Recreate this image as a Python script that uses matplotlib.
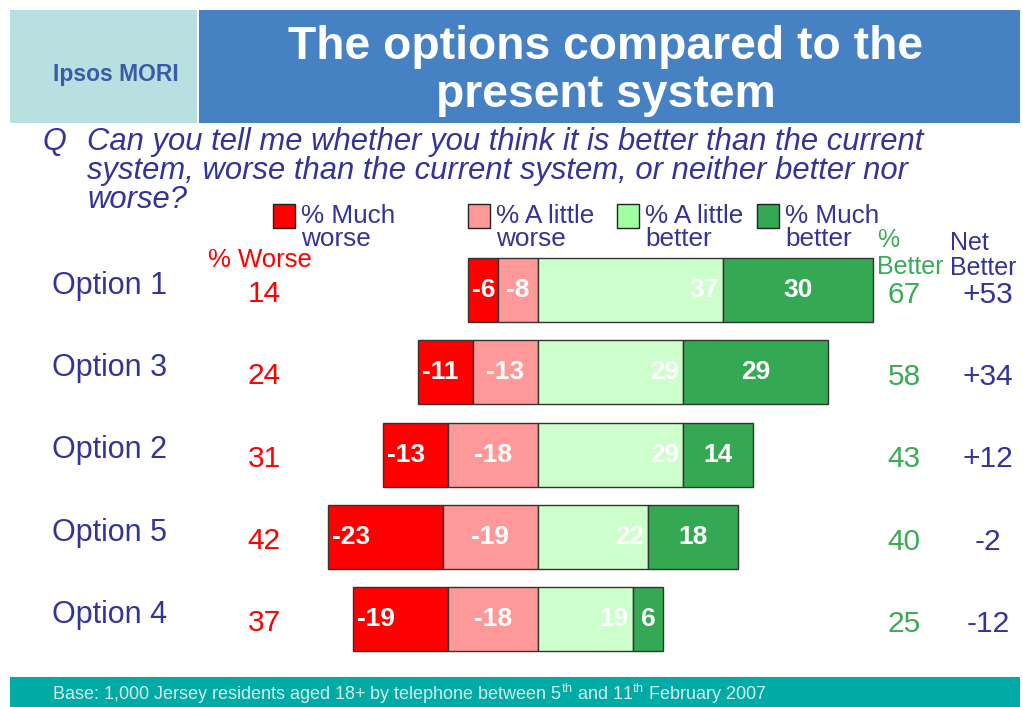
"""
Ipsos MORI slide: the options compared to the present system
Diverging stacked bars, worse to the left of zero, better to the right
"""

import matplotlib
matplotlib.use("Agg")
import matplotlib.pyplot as plt
from matplotlib.patches import Rectangle
import numpy as np

plt.rcParams["font.family"] = ["Liberation Sans", "DejaVu Sans"]
plt.rcParams["mathtext.fontset"] = "custom"
plt.rcParams["mathtext.rm"] = "Liberation Sans"

# ---------------- data (top to bottom)
options = ["Option 1", "Option 3", "Option 2", "Option 5", "Option 4"]
much_worse = [6, 11, 13, 23, 19]
little_worse = [8, 13, 18, 19, 18]
little_better = [37, 29, 29, 22, 19]
much_better = [30, 29, 14, 18, 6]
pct_worse = [14, 24, 31, 42, 37]
pct_better = [67, 58, 43, 40, 25]
net_better = [53, 34, 12, -2, -12]

legend_labels = [("% Much", "worse"), ("% A little", "worse"),
                 ("% A little", "better"), ("% Much", "better")]

# colours
MUCH_WORSE = "#FF0000"
LITTLE_WORSE = "#FF9999"
LITTLE_BETTER = "#CCFFCC"
MUCH_BETTER = "#34A853"
NAVY = "#333399"
RED = "#FF0000"
GREEN = "#3AAA55"

W, H = 1023, 707


def fx(px):
    return px / W


def fy(py):
    return 1 - py / H


fig = plt.figure(figsize=(W / 100, H / 100), dpi=100)

# ---------------- header
fig.add_artist(Rectangle((fx(10), fy(123)), fx(187), 113 / H,
                         transform=fig.transFigure, color="#B8E0E0", lw=0))
fig.add_artist(Rectangle((fx(199), fy(123)), fx(821), 113 / H,
                         transform=fig.transFigure, color="#4581C3", lw=0))
fig.text(fx(116), fy(75), "Ipsos MORI", color="#3A5BA8", fontsize=16.5,
         fontweight="bold", ha="center", va="center")
fig.text(fx(606), fy(47), "The options compared to the", color="white",
         fontsize=33.3, fontweight="bold", ha="center", va="center")
fig.text(fx(606), fy(95), "present system", color="white",
         fontsize=33.3, fontweight="bold", ha="center", va="center")

# ---------------- question
fig.text(fx(42), fy(142), "Q", color=NAVY, fontsize=22, style="italic",
         va="center")
q_lines = ["Can you tell me whether you think it is better than the current",
           "system, worse than the current system, or neither better nor",
           "worse?"]
for i, line in enumerate(q_lines):
    fig.text(fx(87), fy(142 + 29 * i), line, color=NAVY, fontsize=22.3,
             style="italic", va="center")

# ---------------- legend
leg_cols = [MUCH_WORSE, LITTLE_WORSE, "#A0FFA0", MUCH_BETTER]
leg_x = [273, 468, 617, 757]
for (l1, l2), c, x0 in zip(legend_labels, leg_cols, leg_x):
    fig.add_artist(Rectangle((fx(x0), fy(228)), 22 / W, 24 / H,
                             transform=fig.transFigure, facecolor=c,
                             edgecolor="#222222", lw=1))
    fig.text(fx(x0 + 28), fy(216), l1, color=NAVY, fontsize=18.8, va="center")
    fig.text(fx(x0 + 28), fy(239), l2, color=NAVY, fontsize=18.8, va="center")

# column headers
fig.text(fx(260), fy(260), "% Worse", color=RED, fontsize=18.5,
         ha="center", va="center")
fig.text(fx(877), fy(240), "%", color=GREEN, fontsize=18, va="center")
fig.text(fx(877), fy(267), "Better", color=GREEN, fontsize=18, va="center")
fig.text(fx(950), fy(243), "Net", color=NAVY, fontsize=18, va="center")
fig.text(fx(950), fy(268), "Better", color=NAVY, fontsize=18, va="center")

# ---------------- bars (5 px per percentage point, zero at x=538)
ax = fig.add_axes([0, 0, 1, 1])
ax.set_xlim(-538 / 5, (W - 538) / 5)
row_gap = 82.25
ax.set_ylim((H - 290) / row_gap, -290 / row_gap)
ax.axis("off")

y = np.arange(len(options))
mw = np.array(much_worse)
lw_ = np.array(little_worse)
lb = np.array(little_better)
mb = np.array(much_better)
bh = 64 / row_gap
edge = dict(edgecolor="#333333", linewidth=1)

ax.barh(y, mw, left=-(mw + lw_), height=bh, color=MUCH_WORSE, **edge)
ax.barh(y, lw_, left=-lw_, height=bh, color=LITTLE_WORSE, **edge)
ax.barh(y, lb, left=0, height=bh, color=LITTLE_BETTER, **edge)
ax.barh(y, mb, left=lb, height=bh, color=MUCH_BETTER, **edge)

lbl = dict(color="white", fontsize=19, fontweight="bold", va="center")
for i in y:
    ax.text(-(mw[i] + lw_[i]) + 0.8, i, f"-{mw[i]}", ha="left", **lbl)
    ax.text(-lw_[i] / 2, i, f"-{lw_[i]}", ha="center", **lbl)
    ax.text(lb[i] - 0.8, i, f"{lb[i]}", ha="right", **lbl)
    ax.text(lb[i] + mb[i] / 2, i, f"{mb[i]}", ha="center", **lbl)

# row texts: x in axes fraction (== figure px / W), y in data
tr = ax.get_yaxis_transform()
for i in y:
    ax.text(fx(52), i - 0.05, options[i], transform=tr, color=NAVY,
            fontsize=22, va="center")
    ax.text(fx(264), i + 0.05, str(pct_worse[i]), transform=tr, color=RED,
            fontsize=21.5, ha="center", va="center")
    ax.text(fx(904), i + 0.06, str(pct_better[i]), transform=tr, color=GREEN,
            fontsize=21.5, ha="center", va="center")
    ax.text(fx(988), i + 0.06, f"{net_better[i]:+d}", transform=tr,
            color=NAVY, fontsize=21.5, ha="center", va="center")

# ---------------- footer
fig.add_artist(Rectangle((fx(10), 0), fx(1010), 30 / H,
                         transform=fig.transFigure, color="#00AAA5", lw=0))
fig.text(fx(52), fy(694),
         r"Base: 1,000 Jersey residents aged 18+ by telephone between "
         r"5$^{\rm th}$ and 11$^{\rm th}$ February 2007",
         color="#D4ECEC", fontsize=13, va="center")

fig.savefig("out.png", dpi=100)
plt.close(fig)
